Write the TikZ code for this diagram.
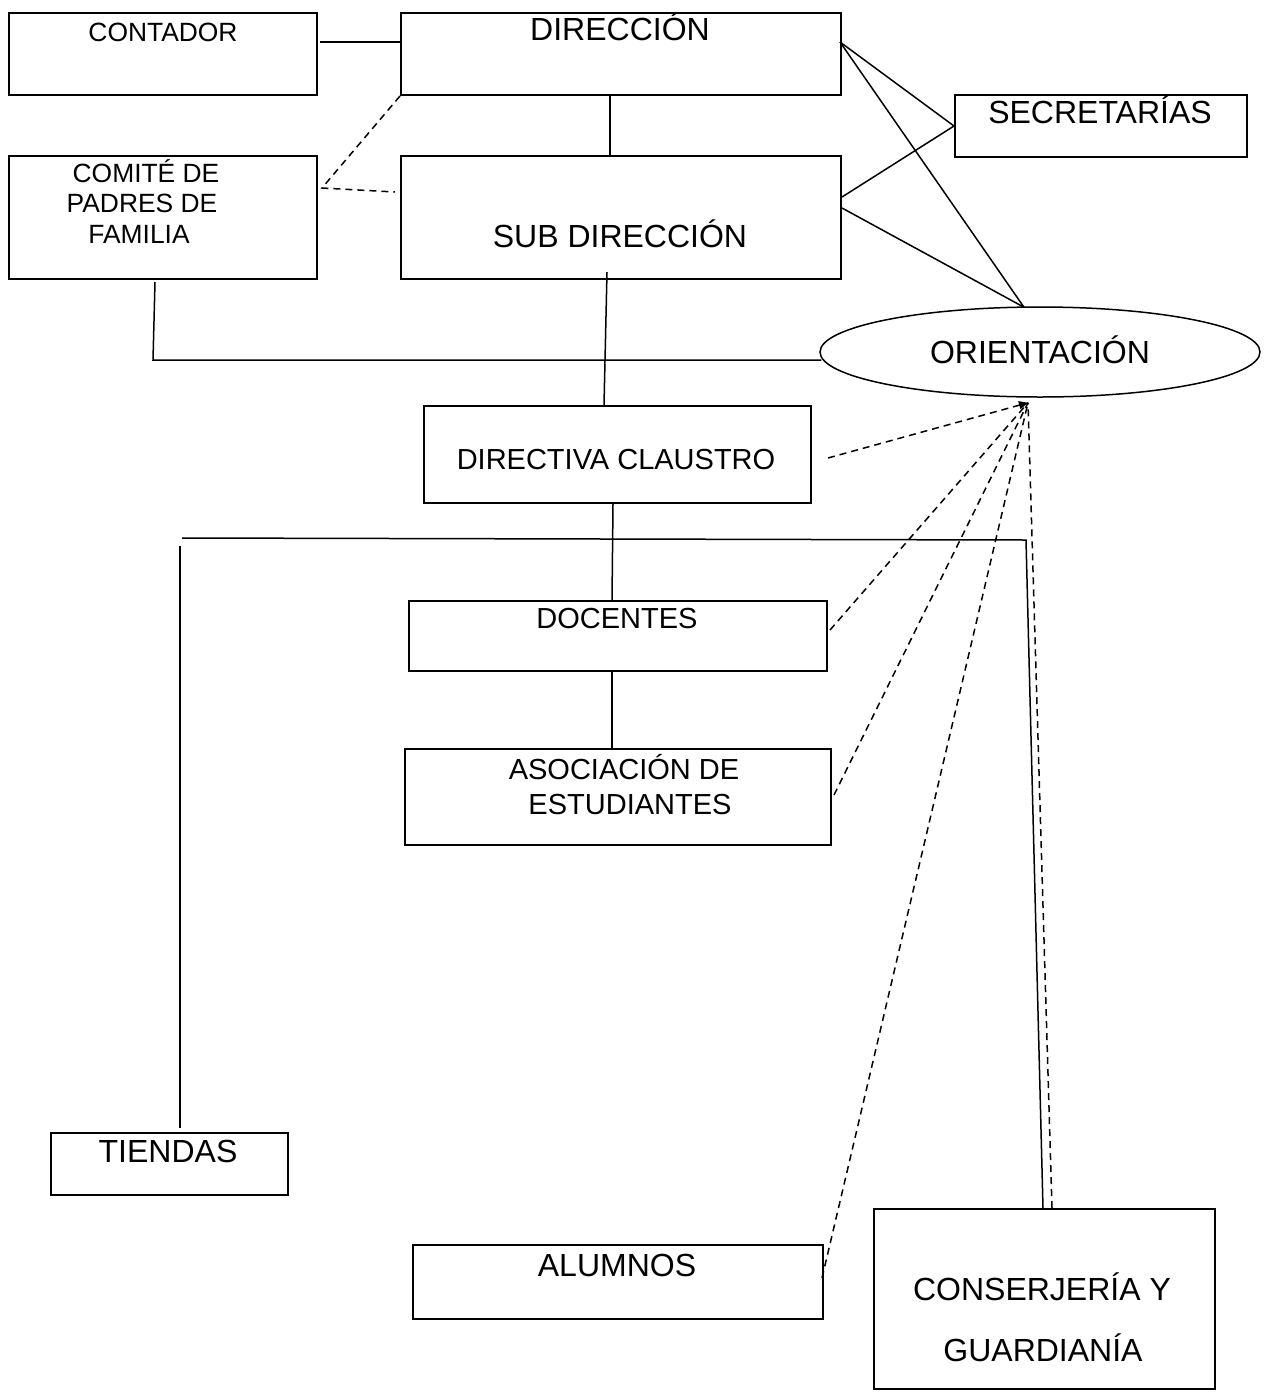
\documentclass[tikz,border=0pt]{standalone}
\usepackage{fontspec}
\setmainfont{Liberation Sans}
\usetikzlibrary{calc,shapes.geometric,arrows.meta}
\tikzset{
  box/.style={draw,line width=2pt,rectangle,inner sep=0pt,anchor=north west},
  conn/.style={line width=1.5pt},
  dconn/.style={line width=1.5pt,dash pattern=on 7pt off 5pt},
  big/.style={font=\fontsize{32}{38}\selectfont,inner sep=0pt,anchor=base},
  mid/.style={font=\fontsize{29}{35}\selectfont,inner sep=0pt,anchor=base},
  small/.style={font=\fontsize{26.4}{31}\selectfont,inner sep=0pt,anchor=base},
}
\begin{document}
\begin{tikzpicture}[x=1pt,y=-1pt]
\useasboundingbox[fill=white] (0,0) rectangle (1264,1393);
% boxes
\node[box,minimum width=308,minimum height=82] (cont) at (8,12) {};
\node[box,minimum width=440,minimum height=82] (dir) at (400,12) {};
\node[box,minimum width=308,minimum height=123] (com) at (8,155) {};
\node[box,minimum width=440,minimum height=123] (sub) at (400,155) {};
\node[box,minimum width=292,minimum height=62] (sec) at (954,94) {};
\node[draw,ellipse,line width=1.5pt,minimum width=440,minimum height=90,inner sep=0pt] (ori) at (1040,352) {};
\node[box,minimum width=387,minimum height=97] (clau) at (423,405) {};
\node[box,minimum width=418,minimum height=70] (doc) at (408,600) {};
\node[box,minimum width=426,minimum height=96] (aso) at (404,748) {};
\node[box,minimum width=237,minimum height=62] (tie) at (50,1132) {};
\node[box,minimum width=410,minimum height=74] (alu) at (412,1244) {};
\node[box,minimum width=341,minimum height=180] (con) at (873,1208) {};
% texts
\node[small] (contT) at (163,41) {CONTADOR};
\node[big] (dirT) at (620,40) {DIRECCIÓN};
\node[small] (comT1) at (146,182) {COMITÉ DE};
\node[small] (comT2) at (142,212) {PADRES DE};
\node[small] (comT3) at (139,243) {FAMILIA};
\node[big] (subT) at (620,247) {SUB DIRECCIÓN};
\node[big] (secT) at (1100,123) {SECRETARÍAS};
\node[big] (oriT) at (1040,363) {ORIENTACIÓN};
\node[mid] (clauT) at (616,469) {DIRECTIVA CLAUSTRO};
\node[mid] (docT) at (617,628) {DOCENTES};
\node[mid] (asoT1) at (624,779) {ASOCIACIÓN DE};
\node[mid] (asoT2) at (630,814) {ESTUDIANTES};
\node[big] (tieT) at (168,1162) {TIENDAS};
\node[big] (aluT) at (617,1276) {ALUMNOS};
\node[big] (conT1) at (1042,1300) {CONSERJERÍA Y};
\node[big] (conT2) at (1043,1361) {GUARDIANÍA};
% coordinates
\coordinate (oritop) at ($(ori.north)+(-16,1)$);
\coordinate (apex) at ($(ori.south)+(-12,5)$);
\coordinate (hl) at (182,538);
\coordinate (hr) at (1026,540);
\coordinate (hlb) at (180,546);
\coordinate (comj) at (153,360);
\coordinate (comd) at ($(com.north east)+(4,33)$);
% solid connectors
\draw[conn] ($(cont.north east)+(2,30)$) -- ($(dir.north west)+(0,30)$);
\draw[conn] ($(dir.south west)+(210,0)$) -- ($(sub.north west)+(210,0)$);
\draw[conn] ($(dir.north east)+(-2,30)$) -- (sec.west);
\draw[conn] ($(sub.north east)+(0,42)$) -- (sec.west);
\draw[conn] ($(dir.north east)+(-2,30)$) -- (oritop);
\draw[conn] ($(sub.north east)+(0,53)$) -- (oritop);
\draw[conn] ($(com.south west)+(147,2)$) -- (comj) -- ($(ori.west)+(2,8)$);
\draw[conn] ($(sub.south west)+(207,-8)$) -- ($(clau.north west)+(181,0)$);
\draw[conn] ($(clau.south west)+(190,0)$) -- ($(doc.north west)+(204,0)$);
\draw[conn] ($(doc.south west)+(204,0)$) -- ($(aso.north west)+(208,0)$);
\draw[conn] (hl) -- (hr) -- ($(con.north west)+(170,0)$);
\draw[conn] (hlb) -- ($(tie.north west)+(130,-4)$);
% dashed connectors
\draw[dconn] (dir.south west) -- (comd) -- ($(sub.north west)+(-5,37)$);
\draw[dconn,-{Triangle[length=9pt,width=8pt]}] ($(clau.north east)+(16,53)$) -- (apex);
\draw[dconn] ($(doc.north east)+(2,30)$) -- (apex);
\draw[dconn] ($(aso.north east)+(2,47)$) -- (apex);
\draw[dconn] ($(alu.north east)+(-2,34)$) -- (apex);
\draw[dconn] ($(con.north west)+(179,0)$) -- (apex);
\end{tikzpicture}
\end{document}
